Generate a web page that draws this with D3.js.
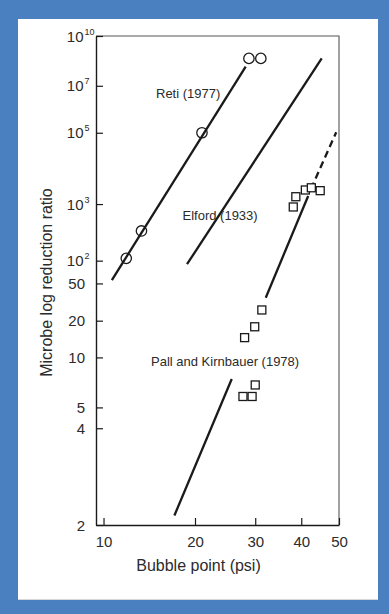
<!DOCTYPE html>
<html>
<head>
<meta charset="utf-8">
<script src="https://cdn.jsdelivr.net/npm/d3@7/dist/d3.min.js"></script>
<style>
  html, body { margin: 0; padding: 0; background: #fff; }
  svg { display: block; font-family: "Liberation Sans", Arial, Helvetica, sans-serif; }
</style>
</head>
<body>
<svg id="chart" width="389" height="614"></svg>
<script>
// ---------- data ----------
const xTickValues = [10, 20, 30, 40, 50];
const xTickLabels = ["10", "20", "30", "40", "50"];

const yTickValues = [2, 4, 5, 10, 20, 50, 1e2, 1e3, 1e5, 1e7, 1e10];
const yTickBase   = ["2", "4", "5", "10", "20", "50", "10", "10", "10", "10", "10"];
const yTickExp    = ["", "", "", "", "", "", "2", "3", "5", "7", "10"];

// Reti (1977) – circles
const retiBubble = [12.0, 13.5, 21.0, 28.8, 31.1];
const retiLRV    = [108, 298, 1.0e5, 3.3e8, 3.3e8];
const retiFitBubble = [10.7, 28.2];
const retiFitLRV    = [55, 1.06e8];

// Elford (1933) – line only
const elfordFitBubble = [18.9, 45.2];
const elfordFitLRV    = [89, 3.3e8];

// Pall and Kirnbauer (1978) – squares
const pallBubble = [38.1, 38.7, 41.0, 42.5, 44.8, 31.3, 29.9, 28.0, 30.0, 27.7, 29.4];
const pallLRV    = [867, 1452, 2080, 2350, 2005, 25.4, 17.6, 14.2, 6.62, 5.70, 5.70];
const pallFitLowBubble  = [17.26, 25.72];
const pallFitLowLRV     = [2.10, 7.19];
const pallFitHighBubble = [32.09, 41.7];
const pallFitHighLRV    = [34.2, 1507];
const pallDashBubble    = [42.4, 49.2];
const pallDashLRV       = [2198, 1.04e5];

const seriesLabels = ["Reti (1977)", "Elford (1933)", "Pall and Kirnbauer (1978)"];
const xTitle = "Bubble point (psi)";
const yTitle = "Microbe log reduction ratio";

(function draw() {
  // ---------- layout ----------
  const W = 389, H = 614;
  const pLeft = 96, pRight = 339, pTop = 36, pBottom = 525;
  const blue = "#4a7fc0";
  const ink = "#1a1a1a";
  const textCol = "#2b2b2b";

  const svg = d3.select("#chart");

  // frame
  svg.append("rect").attr("x", 0).attr("y", 0).attr("width", W).attr("height", H).attr("fill", blue);
  svg.append("rect").attr("x", 18).attr("y", 19).attr("width", 360).attr("height", 581).attr("fill", "#fff");
  svg.append("line").attr("x1", 18).attr("x2", 378).attr("y1", 599.5).attr("y2", 599.5)
    .attr("stroke", "#d8d8d8").attr("stroke-width", 1);

  // ---------- scales ----------
  const x = d3.scalePow().exponent(0.216).domain([9.4, 50]).range([pLeft, pRight]);
  const yLL = d3.scaleLog().domain([Math.log10(2), 10]).range([pBottom, pTop]); // log of log10(value)
  const y = v => yLL(Math.log10(v));

  // plot box top/right edges (thin grey)
  svg.append("path")
    .attr("d", `M${pLeft},${yLL.range()[1]}H${x.range()[1]}V${yLL.range()[0]}`)
    .attr("fill", "none").attr("stroke", "#555").attr("stroke-width", 1.1);

  // ---------- axes ----------
  const xAxis = d3.axisBottom(x)
    .tickValues(xTickValues)
    .tickSizeInner(-7).tickSizeOuter(0)
    .tickPadding(11.5)
    .tickFormat((d, i) => xTickLabels[i]);
  const gx = svg.append("g").attr("transform", `translate(0,${pBottom})`).call(xAxis);
  gx.select(".domain").attr("stroke", ink).attr("stroke-width", 1.4);
  gx.selectAll(".tick line").attr("stroke", ink).attr("stroke-width", 1.2);
  gx.selectAll(".tick text").attr("fill", textCol).attr("font-size", 15)
    .attr("font-family", "Liberation Sans, Arial, sans-serif");

  const yAxis = d3.axisLeft(yLL)
    .tickValues(yTickValues.map(v => Math.log10(v)))
    .tickSizeInner(-7).tickSizeOuter(0)
    .tickFormat("");
  const gy = svg.append("g").attr("transform", `translate(${pLeft},0)`).call(yAxis);
  gy.select(".domain").attr("stroke", ink).attr("stroke-width", 1.4);
  gy.selectAll(".tick line").attr("stroke", ink).attr("stroke-width", 1.2);

  // y tick labels with superscripts
  const yl = svg.append("g").attr("fill", textCol);
  yTickValues.forEach((v, i) => {
    const py = y(v);
    const isPow = yTickExp[i] !== "";
    yl.append("text")
      .attr("x", isPow ? 83.5 : 85)
      .attr("y", py + 5.5)
      .attr("text-anchor", "end")
      .attr("font-size", 15)
      .text(yTickBase[i]);
    if (isPow) {
      yl.append("text")
        .attr("x", 84.5)
        .attr("y", py - 1.5)
        .attr("text-anchor", "start")
        .attr("font-size", 9)
        .text(yTickExp[i]);
    }
  });

  // axis titles
  svg.append("text")
    .attr("x", 198.5).attr("y", 571)
    .attr("text-anchor", "middle").attr("font-size", 16).attr("fill", textCol)
    .text(xTitle);
  svg.append("text")
    .attr("transform", `translate(51.5,282.5) rotate(-90)`)
    .attr("text-anchor", "middle").attr("font-size", 16).attr("fill", textCol)
    .text(yTitle);

  // ---------- fitted lines ----------
  const seg = (bx, ly) => d3.line().x(d => x(d[0])).y(d => y(d[1]))(bx.map((b, i) => [b, ly[i]]));
  const lines = svg.append("g").attr("fill", "none").attr("stroke", ink)
    .attr("stroke-width", 2.3).attr("stroke-linecap", "butt");
  lines.append("path").attr("d", seg(retiFitBubble, retiFitLRV));
  lines.append("path").attr("d", seg(elfordFitBubble, elfordFitLRV));
  lines.append("path").attr("d", seg(pallFitLowBubble, pallFitLowLRV));
  lines.append("path").attr("d", seg(pallFitHighBubble, pallFitHighLRV));
  lines.append("path").attr("d", seg(pallDashBubble, pallDashLRV)).attr("stroke-dasharray", "7,4.5");

  // ---------- markers ----------
  svg.append("g").selectAll("circle")
    .data(retiBubble.map((b, i) => [b, retiLRV[i]]))
    .join("circle")
    .attr("cx", d => x(d[0])).attr("cy", d => y(d[1])).attr("r", 5.2)
    .attr("fill", "none").attr("stroke", ink).attr("stroke-width", 1.3);

  const sq = 8;
  svg.append("g").selectAll("rect")
    .data(pallBubble.map((b, i) => [b, pallLRV[i]]))
    .join("rect")
    .attr("x", d => x(d[0]) - sq / 2).attr("y", d => y(d[1]) - sq / 2)
    .attr("width", sq).attr("height", sq)
    .attr("fill", "#fff").attr("stroke", ink).attr("stroke-width", 1.3);

  // ---------- series labels ----------
  const lab = svg.append("g").attr("font-size", 13).attr("fill", textCol);
  lab.append("text").attr("x", 156).attr("y", 97.5).text(seriesLabels[0]);
  lab.append("text").attr("x", 182.5).attr("y", 219.5).text(seriesLabels[1]);
  lab.append("text").attr("x", 151).attr("y", 365.5).text(seriesLabels[2]);
})();
</script>
</body>
</html>
